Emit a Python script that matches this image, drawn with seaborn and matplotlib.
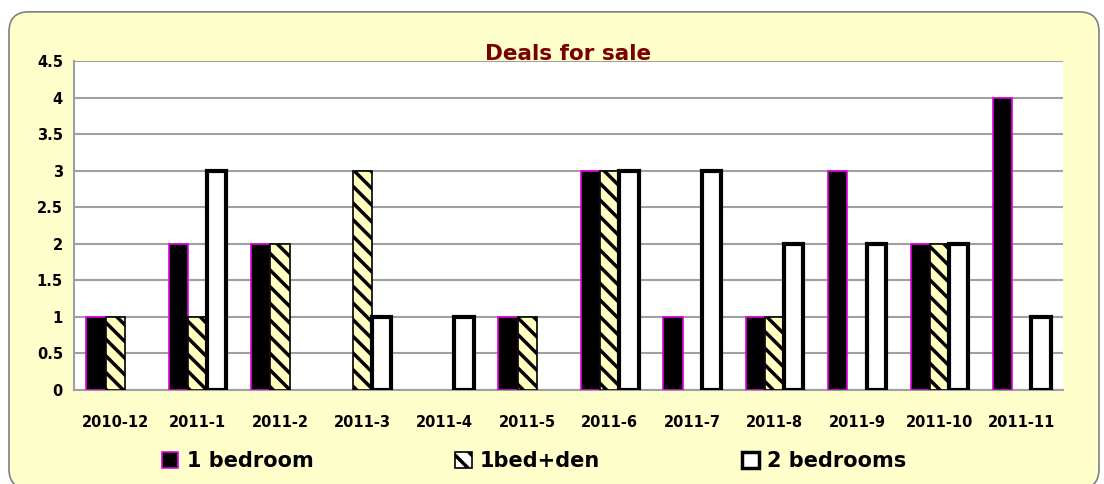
import numpy as np
import matplotlib
matplotlib.use('Agg')
import matplotlib.pyplot as plt
from matplotlib.patches import FancyBboxPatch, Patch
import pandas as pd
import seaborn as sns

MONTHS = ['2010-12', '2011-1', '2011-2', '2011-3', '2011-4', '2011-5',
          '2011-6', '2011-7', '2011-8', '2011-9', '2011-10', '2011-11']
ONE_BED = [1, 2, 2, 0, 0, 1, 3, 1, 1, 3, 2, 4]
ONE_BED_DEN = [1, 1, 2, 3, 0, 1, 3, 0, 1, 0, 2, 0]
TWO_BED = [0, 3, 0, 1, 1, 0, 3, 3, 2, 2, 2, 1]
SERIES = ['1 bedroom', '1bed+den', '2 bedrooms']
Y_TICKS = [0, 0.5, 1, 1.5, 2, 2.5, 3, 3.5, 4, 4.5]

BG = '#FFFFCC'
HATCH_FACE = '#FFFFC0'
MAGENTA = '#E000E0'

data = pd.DataFrame({
    'month': MONTHS * 3,
    'series': [SERIES[0]] * 12 + [SERIES[1]] * 12 + [SERIES[2]] * 12,
    'deals': ONE_BED + ONE_BED_DEN + TWO_BED,
})

sns.set_style('white')
plt.rcParams['font.family'] = ['DejaVu Sans']
plt.rcParams['hatch.linewidth'] = 2.5
plt.rcParams['hatch.color'] = 'black'
plt.rcParams['text.color'] = 'black'
plt.rcParams['xtick.color'] = 'black'
plt.rcParams['ytick.color'] = 'black'

fig = plt.figure(figsize=(11.04, 4.84), dpi=100)
fig.patch.set_facecolor('white')
box = FancyBboxPatch((9 / 1104, -0.01), 1090 / 1104, 477 / 484,
                     boxstyle='round,pad=0,rounding_size=0.018',
                     transform=fig.transFigure, facecolor=BG,
                     edgecolor='#808080', linewidth=1.2, zorder=-5,
                     mutation_aspect=1104 / 484)
fig.patches.append(box)

ax = fig.add_axes([74 / 1104, 1 - 390 / 484, 989 / 1104, 329 / 484])
ax.set_facecolor('white')

sns.barplot(data=data, x='month', y='deals', hue='series', order=MONTHS,
            hue_order=SERIES, width=0.7, ax=ax, legend=False,
            palette=['black', HATCH_FACE, 'white'], saturation=1)

n = len(MONTHS)
for i, bar in enumerate(ax.patches[:3 * n]):
    s = i // n
    if bar.get_height() == 0:
        bar.set_visible(False)
    if s == 0:
        bar.set_edgecolor(MAGENTA)
        bar.set_linewidth(1.2)
    elif s == 1:
        bar.set_edgecolor('black')
        bar.set_linewidth(1.2)
        bar.set_hatch('\\\\')
    else:
        bar.set_edgecolor('black')
        bar.set_linewidth(3)
    bar.set_zorder(3)

ax.set_ylim(0, 4.5)
ax.set_xlim(-0.5, n - 0.5)
ax.set_yticks(Y_TICKS)
ax.set_yticklabels([f'{v:g}' for v in Y_TICKS], fontweight='bold', fontsize=10.5)
ax.set_xticks(range(n))
ax.set_xticklabels(MONTHS, fontweight='bold', fontsize=10.5)
ax.set_xticks(np.arange(0.5, n - 0.5, 1), minor=True)
ax.tick_params(axis='x', which='major', length=0, pad=18)
ax.tick_params(axis='x', which='minor', length=5, direction='in',
               color='#909090', width=1.2)
ax.tick_params(axis='y', length=0, pad=8)
ax.yaxis.grid(True, color='#A0A0A0', linewidth=1.5)
ax.set_axisbelow(True)
for side in ['top', 'right']:
    ax.spines[side].set_visible(False)
for side in ['left', 'bottom']:
    ax.spines[side].set_color('#A0A0A0')
    ax.spines[side].set_linewidth(1.5)
ax.set_xlabel('')
ax.set_ylabel('')
ax.set_title('Deals for sale', color='#7A0000', fontweight='bold',
             fontsize=15.5, pad=1)

handles = [
    Patch(facecolor='black', edgecolor=MAGENTA, linewidth=1.2, label=SERIES[0]),
    Patch(facecolor='white', edgecolor='black', linewidth=1.2, hatch='\\\\',
          label=SERIES[1]),
    Patch(facecolor='white', edgecolor='black', linewidth=2.5, label=SERIES[2]),
]
leg = fig.legend(handles=handles, loc='center', ncol=3,
                 bbox_to_anchor=(534 / 1104, 1 - 461 / 484), frameon=False,
                 prop={'weight': 'bold', 'size': 15}, handlelength=0.8,
                 handleheight=0.8, handletextpad=0.4, columnspacing=6.8)

fig.savefig('out.png', dpi=100)
